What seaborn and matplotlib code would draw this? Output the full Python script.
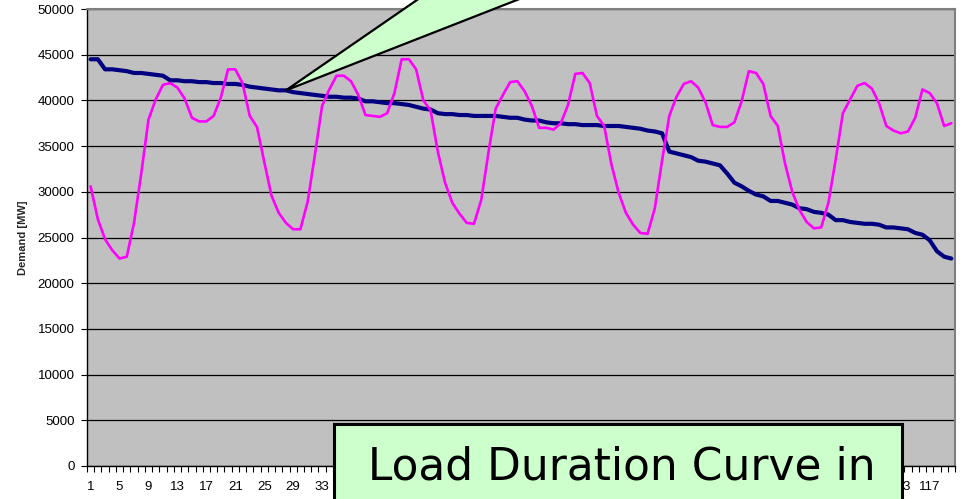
import numpy as np
import pandas as pd
import matplotlib
matplotlib.use("Agg")
import matplotlib.pyplot as plt
import seaborn as sns
from matplotlib.patches import Polygon, Rectangle

# ---------------- data ----------------
hours = list(range(1, 121))

chronological_load = [
    30600, 27000, 24800, 23600, 22700, 22900, 26600, 32000, 37900, 40100, 41700, 41900,
    41400, 40200, 38100, 37700, 37700, 38300, 40300, 43400, 43400, 41900, 38300, 37100,
    33300, 29600, 27700, 26600, 25900, 25900, 28900, 34000, 39400, 41200, 42700, 42700,
    42100, 40600, 38400, 38300, 38200, 38600, 40800, 44500, 44500, 43400, 40000, 38900,
    34400, 31000, 28800, 27600, 26600, 26500, 29100, 34300, 39100, 40600, 42000, 42100,
    41000, 39400, 37000, 37000, 36800, 37500, 39500, 42900, 43000, 41900, 38300, 37200,
    33000, 29900, 27700, 26400, 25500, 25400, 28200, 33400, 38300, 40400, 41800, 42100,
    41400, 39800, 37300, 37100, 37100, 37600, 39900, 43200, 43000, 41800, 38300, 37200,
    33100, 30000, 28000, 26700, 26000, 26100, 28800, 33500, 38600, 40100, 41600, 41900,
    41300, 39700, 37200, 36700, 36400, 36600, 38100, 41200, 40800, 39700, 37200, 37500,
]

duration_curve = [
    44500, 44500, 43400, 43400, 43300, 43200, 43000, 43000, 42900, 42800, 42700, 42200,
    42200, 42100, 42100, 42000, 42000, 41900, 41900, 41800, 41800, 41700, 41500, 41400,
    41300, 41200, 41100, 41100, 40900, 40800, 40700, 40600, 40500, 40400, 40400, 40300,
    40300, 40200, 39900, 39900, 39800, 39700, 39700, 39600, 39500, 39300, 39100, 39000,
    38600, 38500, 38500, 38400, 38400, 38300, 38300, 38300, 38300, 38200, 38100, 38100,
    37900, 37800, 37800, 37600, 37500, 37500, 37400, 37400, 37300, 37300, 37300, 37200,
    37200, 37200, 37100, 37000, 36900, 36700, 36600, 36400, 34400, 34200, 34000, 33800,
    33400, 33300, 33100, 32900, 32000, 31000, 30600, 30100, 29700, 29500, 29000, 29000,
    28800, 28600, 28200, 28100, 27800, 27700, 27500, 26900, 26900, 26700, 26600, 26500,
    26500, 26400, 26100, 26100, 26000, 25900, 25500, 25300, 24700, 23500, 22900, 22700,
]

x_tick_labels = [str(h) for h in range(1, 121, 4)]
y_ticks = list(range(0, 50001, 5000))
y_label = "Demand [MW]"
box_line1 = "Load Duration Curve in"
box_line2 = "Comparison to Load Curve"
callout_hour = 28

df = pd.DataFrame({"hour": hours,
                   "chrono": chronological_load,
                   "ldc": duration_curve})

# ---------------- figure ----------------
sns.set_style("white")
plt.rcParams["font.family"] = ["Liberation Sans", "DejaVu Sans"]

W, H = 966, 499
fig = plt.figure(figsize=(W / 100, H / 100), dpi=100)
fig.patch.set_facecolor("white")

def fx(px):
    return px / W

def fy(py):
    return 1 - py / H

ax = fig.add_axes([fx(87), fy(466), fx(955) - fx(87), fy(9) - fy(466)])
ax.set_facecolor("#C0C0C0")

sns.lineplot(data=df, x="hour", y="ldc", ax=ax, color="#000080",
             linewidth=3.0, zorder=3, legend=False)
sns.lineplot(data=df, x="hour", y="chrono", ax=ax, color="#FF00FF",
             linewidth=1.9, zorder=4, legend=False)

ax.set_xlim(0.5, 120.5)
ax.set_ylim(0, 50000)

ax.set_yticks(y_ticks)
ax.set_yticklabels([str(v) for v in y_ticks])
ax.set_xticks(list(range(1, 121, 4)))
ax.set_xticklabels(x_tick_labels)
ax.set_xticks(np.arange(0.5, 121, 1), minor=True)

ax.tick_params(axis="x", which="major", length=0, pad=11, labelsize=9.5,
               colors="black")
ax.tick_params(axis="x", which="minor", length=4, width=0.8, direction="out",
               color="black", bottom=True)
ax.tick_params(axis="y", which="major", length=4, width=0.8, direction="out",
               pad=5, labelsize=9.5, colors="black", left=True)

ax.yaxis.grid(True, color="black", linewidth=0.9, zorder=1)
ax.xaxis.grid(False)
ax.set_axisbelow(True)

for s in ["left", "bottom"]:
    ax.spines[s].set_color("black")
    ax.spines[s].set_linewidth(1.0)
for s in ["top", "right"]:
    ax.spines[s].set_color("#808080")
    ax.spines[s].set_linewidth(1.5)

ax.set_xlabel("")
ax.set_ylabel(y_label, fontsize=8, fontweight="bold")
ax.yaxis.set_label_coords((28 - 87) / 868, 0.5)

# callout triangle pointing at duration curve
tip_disp = ax.transData.transform((callout_hour, duration_curve[callout_hour - 1]))
tip_fig = fig.transFigure.inverted().transform(tip_disp)
tri = Polygon([tip_fig, (fx(446), fy(-20)), (fx(568), fy(-20))],
              closed=True, transform=fig.transFigure, facecolor="#CCFFCC",
              edgecolor="black", linewidth=1.6, clip_on=False, zorder=10,
              joinstyle="miter")
fig.add_artist(tri)

# text box at bottom
rect = Rectangle((fx(334), fy(560)), fx(902) - fx(334), fy(424) - fy(560),
                 transform=fig.transFigure, facecolor="#CCFFCC",
                 edgecolor="black", linewidth=2.2, clip_on=False, zorder=10)
fig.add_artist(rect)
fig.text(fx(368), fy(479), box_line1, fontsize=31.6, color="black",
         ha="left", va="baseline", zorder=11, family="DejaVu Sans")
fig.text(fx(618), fy(533), box_line2, fontsize=31.6, color="black",
         ha="center", va="baseline", zorder=11, family="DejaVu Sans")

fig.savefig("out.png", dpi=100)
